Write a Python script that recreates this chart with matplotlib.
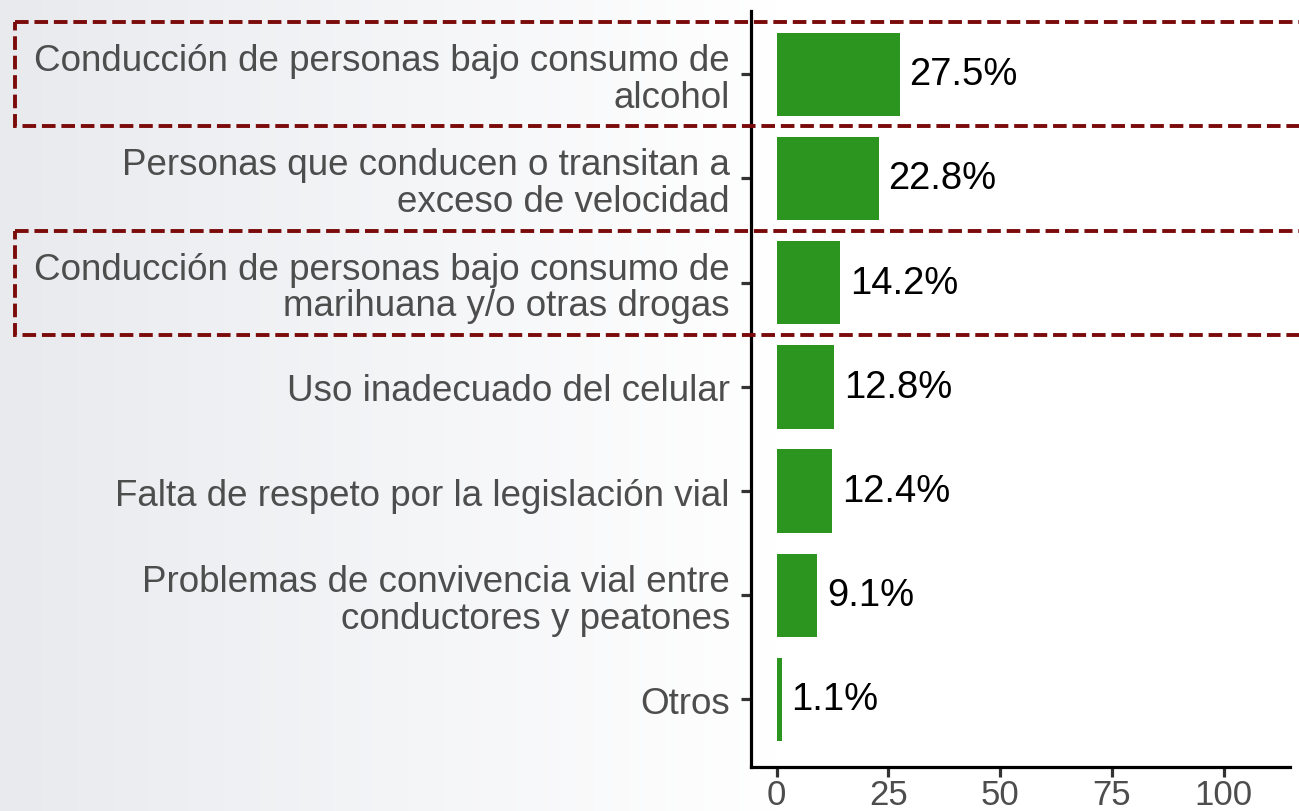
import numpy as np
import matplotlib
matplotlib.use("Agg")
import matplotlib.pyplot as plt
import matplotlib.transforms as mtransforms
from matplotlib.patches import Rectangle
from matplotlib.colors import LinearSegmentedColormap

# Data (top to bottom)
categories = [
    "Conducción de personas bajo consumo de\nalcohol",
    "Personas que conducen o transitan a\nexceso de velocidad",
    "Conducción de personas bajo consumo de\nmarihuana y/o otras drogas",
    "Uso inadecuado del celular",
    "Falta de respeto por la legislación vial",
    "Problemas de convivencia vial entre\nconductores y peatones",
    "Otros",
]
values = [27.5, 22.8, 14.2, 12.8, 12.4, 9.1, 1.1]
highlight = [0, 2]
xticks = [0, 25, 50, 75, 100]

plt.rcParams['font.family'] = ['Liberation Sans', 'DejaVu Sans']

fig = plt.figure(figsize=(12.99, 8.12), dpi=100)

# background gradient on the left
bg = fig.add_axes([0, 0, 1, 1], zorder=-10)
cmap = LinearSegmentedColormap.from_list("bg", ["#e8eaee", "#ffffff"])
grad = np.clip(np.linspace(0, 1, 400) / 0.6, 0, 1).reshape(1, -1)
bg.imshow(grad, aspect="auto", cmap=cmap, extent=[0, 1, 0, 1])
bg.axis("off")

ax = fig.add_axes([0.578, 0.054, 0.415, 0.931])
ax.set_facecolor("none")

y = np.arange(len(categories))
ax.barh(y, values, height=0.8, color="#2b9520", zorder=3)
for yi, v in zip(y, values):
    ax.annotate(f"{v}%", (v, yi), xytext=(7, 0), textcoords="offset points",
                va="center", ha="left", fontsize=27.5, color="black")

ax.set_yticks(y)
ax.set_yticklabels(categories, fontsize=26.5, color="#4d4d4d", linespacing=1.05)
ax.set_xticks(xticks)
ax.set_xticklabels([str(t) for t in xticks], fontsize=25, color="#4d4d4d")
ax.set_xlim(-5.8, 114.8)
ax.set_ylim(len(categories) - 1 + 0.65, -0.605)

for s in ["top", "right"]:
    ax.spines[s].set_visible(False)
for s in ["left", "bottom"]:
    ax.spines[s].set_linewidth(2.3)
    ax.spines[s].set_color("black")
ax.tick_params(axis="both", length=7, width=2.3, color="#333333")
ax.tick_params(axis="y", pad=8)
ax.tick_params(axis="x", pad=1)

# dashed highlight boxes
trans = mtransforms.blended_transform_factory(fig.transFigure, ax.transData)
for i in highlight:
    r = Rectangle((0.0115, i - 0.5), 1.1, 1.0, transform=trans, fill=False,
                  edgecolor="#7b0a0a", linewidth=2.8, linestyle=(0, (3.5, 1.5)),
                  clip_on=False, zorder=5)
    fig.add_artist(r)

fig.savefig("out.png", dpi=100)
